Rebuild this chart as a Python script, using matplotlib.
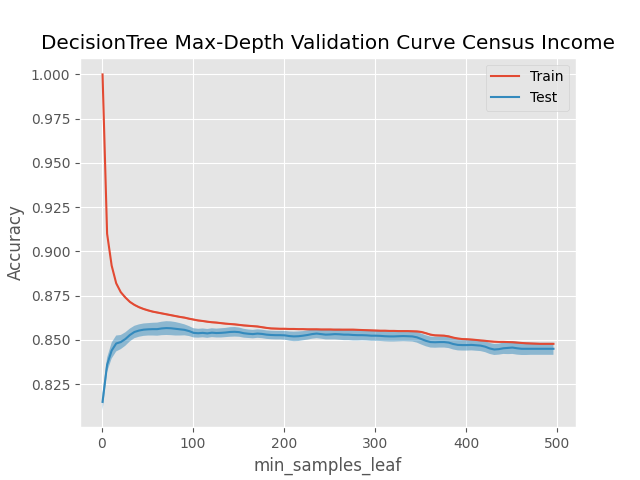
import matplotlib
matplotlib.use("Agg")
import matplotlib.pyplot as plt
import numpy as np

plt.style.use("ggplot")

min_samples_leaf = list(range(1, 497, 5))

train_mean = [
    1.000, 0.910, 0.892, 0.882, 0.877, 0.874, 0.8715, 0.8698, 0.8685, 0.8675,
    0.8667, 0.8660, 0.8655, 0.8650, 0.8645, 0.8640, 0.8635, 0.8630, 0.8626, 0.8620,
    0.8615, 0.8610, 0.8607, 0.8603, 0.8600, 0.8598, 0.8595, 0.8592, 0.8590, 0.8588,
    0.8585, 0.8582, 0.8580, 0.8578, 0.8576, 0.8572, 0.8568, 0.8565, 0.8564, 0.8563,
    0.8563, 0.8562, 0.8562, 0.8561, 0.8561, 0.8560, 0.8560, 0.8560, 0.8559, 0.8559,
    0.8559, 0.8558, 0.8558, 0.8558, 0.8558, 0.8558, 0.8557, 0.8556, 0.8555, 0.8554,
    0.8553, 0.8552, 0.8552, 0.8551, 0.8551, 0.8550, 0.8550, 0.8550, 0.8549, 0.8548,
    0.8545, 0.8538, 0.8530, 0.8526, 0.8525, 0.8524, 0.8520, 0.8513, 0.8508, 0.8505,
    0.8504, 0.8502, 0.8500, 0.8497, 0.8495, 0.8492, 0.8490, 0.8489, 0.8489, 0.8488,
    0.8487, 0.8485, 0.8483, 0.8481, 0.8480, 0.8479, 0.8478, 0.8478, 0.8478, 0.8478,
]

train_std = [
    0.0000, 0.0005, 0.0005, 0.0005, 0.0005, 0.0005, 0.0005, 0.0005, 0.0005, 0.0005,
    0.0005, 0.0005, 0.0005, 0.0005, 0.0005, 0.0005, 0.0005, 0.0005, 0.0005, 0.0005,
    0.0005, 0.0005, 0.0005, 0.0005, 0.0005, 0.0005, 0.0005, 0.0005, 0.0005, 0.0005,
    0.0005, 0.0005, 0.0005, 0.0005, 0.0005, 0.0005, 0.0005, 0.0005, 0.0005, 0.0005,
    0.0005, 0.0005, 0.0005, 0.0005, 0.0005, 0.0005, 0.0005, 0.0005, 0.0005, 0.0005,
    0.0005, 0.0005, 0.0005, 0.0005, 0.0005, 0.0005, 0.0005, 0.0005, 0.0005, 0.0005,
    0.0005, 0.0005, 0.0005, 0.0005, 0.0005, 0.0005, 0.0005, 0.0005, 0.0005, 0.0005,
    0.0005, 0.0005, 0.0005, 0.0005, 0.0005, 0.0005, 0.0005, 0.0005, 0.0005, 0.0005,
    0.0005, 0.0005, 0.0005, 0.0005, 0.0005, 0.0005, 0.0005, 0.0005, 0.0005, 0.0005,
    0.0005, 0.0005, 0.0005, 0.0005, 0.0005, 0.0005, 0.0005, 0.0005, 0.0005, 0.0005,
]

test_mean = [
    0.815, 0.836, 0.844, 0.848, 0.8488, 0.8505, 0.8528, 0.8545, 0.8553, 0.8558,
    0.8560, 0.8561, 0.8561, 0.8565, 0.8567, 0.8566, 0.8563, 0.8560, 0.8557, 0.8550,
    0.8540, 0.8538, 0.8540, 0.8537, 0.8541, 0.8539, 0.8540, 0.8542, 0.8545, 0.8546,
    0.8544, 0.8538, 0.8535, 0.8533, 0.8536, 0.8534, 0.8530, 0.8528, 0.8527, 0.8527,
    0.8526, 0.8522, 0.8520, 0.8521, 0.8524, 0.8528, 0.8533, 0.8536, 0.8533, 0.8530,
    0.8531, 0.8533, 0.8532, 0.8530, 0.8530, 0.8528, 0.8527, 0.8527, 0.8526, 0.8524,
    0.8524, 0.8523, 0.8521, 0.8520, 0.8520, 0.8521, 0.8522, 0.8521, 0.8520, 0.8515,
    0.8505, 0.8495, 0.8488, 0.8487, 0.8488, 0.8488, 0.8485, 0.8477, 0.8472, 0.8471,
    0.8471, 0.8472, 0.8470, 0.8468, 0.8462, 0.8452, 0.8446, 0.8448, 0.8453, 0.8455,
    0.8457, 0.8453, 0.8450, 0.8450, 0.8450, 0.8450, 0.8450, 0.8450, 0.8450, 0.8450,
]

test_std = [
    0.0048, 0.0040, 0.0045, 0.0045, 0.0040, 0.0038, 0.0036, 0.0035, 0.0035, 0.0035,
    0.0035, 0.0036, 0.0037, 0.0038, 0.0039, 0.0039, 0.0038, 0.0035, 0.0031, 0.0028,
    0.0026, 0.0025, 0.0025, 0.0025, 0.0025, 0.0025, 0.0026, 0.0026, 0.0027, 0.0027,
    0.0026, 0.0025, 0.0024, 0.0024, 0.0024, 0.0024, 0.0024, 0.0024, 0.0024, 0.0024,
    0.0025, 0.0026, 0.0027, 0.0027, 0.0026, 0.0026, 0.0026, 0.0026, 0.0026, 0.0027,
    0.0028, 0.0030, 0.0031, 0.0031, 0.0031, 0.0031, 0.0030, 0.0029, 0.0029, 0.0029,
    0.0029, 0.0029, 0.0029, 0.0029, 0.0029, 0.0029, 0.0029, 0.0029, 0.0029, 0.0030,
    0.0031, 0.0031, 0.0031, 0.0031, 0.0031, 0.0031, 0.0031, 0.0031, 0.0031, 0.0031,
    0.0031, 0.0031, 0.0031, 0.0031, 0.0031, 0.0031, 0.0031, 0.0031, 0.0032, 0.0035,
    0.0036, 0.0036, 0.0035, 0.0035, 0.0034, 0.0034, 0.0034, 0.0034, 0.0034, 0.0034,
]

x = np.array(min_samples_leaf)
tr_m, tr_s = np.array(train_mean), np.array(train_std)
te_m, te_s = np.array(test_mean), np.array(test_std)

fig, ax = plt.subplots(figsize=(6.4, 4.8), dpi=100)
ax.fill_between(x, tr_m - tr_s, tr_m + tr_s, alpha=0.5)
ax.fill_between(x, te_m - te_s, te_m + te_s, alpha=0.5)
ax.plot(x, tr_m, label="Train", color="#E24A33")
ax.plot(x, te_m, label="Test", color="#348ABD")
ax.set_title("DecisionTree Max-Depth Validation Curve Census Income")
ax.set_xlabel("min_samples_leaf")
ax.set_ylabel("Accuracy")
ax.legend(loc="best")
fig.savefig("out.png")
